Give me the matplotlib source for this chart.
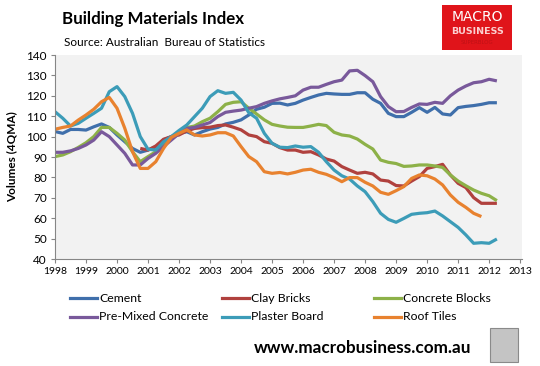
import numpy as np
import matplotlib
matplotlib.use("Agg")
import matplotlib.pyplot as plt
from matplotlib.patches import Rectangle
from matplotlib.lines import Line2D

plt.rcParams['font.family'] = ['Lato', 'DejaVu Sans']

nan = np.nan
start_year = 1998
n_quarters = 58
quarters = start_year + np.arange(n_quarters) * 0.25

cement = [102.5, 101.6, 103.5, 103.5, 103.2, 104.8, 106.2, 104.5,
          100.8, 97.5, 94.2, 92.3, 93.4, 95.0, 98.3, 100.0,
          101.5, 102.4, 100.8, 102.4, 103.7, 104.5, 106.2, 107.0,
          108.2, 110.6, 113.4, 114.4, 116.3, 116.4, 115.5, 116.3,
          117.9, 119.2, 120.4, 121.2, 120.9, 120.7, 120.7, 121.5,
          121.5, 118.3, 116.3, 111.4, 109.8, 109.8, 111.9, 114.2,
          111.9, 114.3, 111.1, 110.6, 114.2, 114.8, 115.2, 115.8,
          116.6, 116.6]
clay_bricks = [nan] * 11 + [94.2,
          93.4, 95.4, 98.7, 100.0, 100.8, 102.8, 104.0, 104.4,
          104.6, 105.4, 105.7, 104.6, 103.3, 100.8, 100.0, 97.5,
          96.7, 94.6, 93.4, 93.4, 92.3, 92.6, 91.0, 89.0,
          88.0, 85.3, 83.6, 82.0, 82.5, 81.7, 78.7, 78.2,
          76.0, 75.8, 78.2, 80.4, 84.4, 85.3, 86.4, 81.2,
          77.1, 75.0, 70.1, 67.3, 67.3, 67.3]
concrete_blocks = [90.2, 91.0, 92.6, 94.7, 97.0, 100.0, 104.5, 104.5,
          101.6, 98.3, 92.6, 87.7, 90.2, 92.6, 95.9, 98.8,
          101.6, 104.4, 105.2, 107.3, 109.0, 112.2, 115.8, 116.8,
          117.1, 113.9, 111.1, 108.2, 106.0, 105.2, 104.6, 104.5,
          104.5, 105.2, 106.0, 105.4, 102.1, 100.8, 100.3, 98.8,
          96.2, 93.9, 88.5, 87.4, 86.8, 85.4, 85.6, 86.1,
          86.1, 85.6, 84.9, 81.2, 78.2, 75.9, 73.8, 72.2,
          71.0, 68.6]
pre_mixed = [92.3, 92.3, 93.0, 94.2, 95.9, 98.3, 102.4, 100.0,
          95.9, 91.8, 86.1, 86.1, 89.3, 91.8, 95.1, 98.3,
          101.5, 104.0, 104.5, 105.7, 106.9, 109.8, 111.9, 112.5,
          113.0, 113.9, 114.7, 116.3, 117.5, 118.5, 119.2, 120.0,
          122.8, 124.2, 124.2, 125.6, 126.9, 127.7, 132.2, 132.5,
          129.9, 126.9, 119.6, 114.7, 112.2, 112.3, 114.3, 116.0,
          115.8, 116.8, 116.3, 120.0, 122.8, 124.8, 126.4, 126.9,
          128.1, 127.3]
plaster_board = [112.2, 109.0, 105.2, 106.5, 109.0, 111.4, 113.9, 122.0,
          124.5, 119.6, 111.4, 100.0, 93.8, 93.4, 97.5, 100.0,
          103.0, 105.7, 109.8, 113.9, 119.6, 122.5, 121.2, 121.7,
          117.9, 111.7, 109.0, 101.6, 96.7, 94.8, 94.6, 95.4,
          94.8, 95.1, 92.3, 87.7, 83.6, 80.8, 79.2, 75.8,
          73.0, 68.1, 62.4, 59.4, 58.0, 59.9, 61.9, 62.4,
          62.7, 63.5, 61.1, 58.3, 55.5, 51.8, 47.7, 48.0,
          47.7, 49.8]
roof_tiles = [103.6, 104.5, 105.2, 108.1, 110.6, 113.4, 117.1, 119.2,
          113.9, 104.1, 92.6, 84.4, 84.4, 87.7, 94.2, 99.6,
          101.6, 103.3, 100.8, 100.3, 100.8, 101.9, 101.9, 100.3,
          95.1, 90.2, 87.7, 82.8, 82.0, 82.4, 81.7, 82.5,
          83.6, 84.0, 82.5, 81.5, 79.9, 77.9, 79.9, 79.9,
          77.6, 75.8, 72.7, 71.7, 73.5, 75.5, 79.5, 81.2,
          80.8, 79.2, 76.3, 71.4, 67.8, 65.3, 62.4, 60.8, nan, nan]

series_names = ["Cement", "Clay Bricks", "Concrete Blocks",
                "Pre-Mixed Concrete", "Plaster Board", "Roof Tiles"]
series_values = [cement, clay_bricks, concrete_blocks, pre_mixed, plaster_board, roof_tiles]
colors = ["#3f6fab", "#b0413e", "#8db148", "#79599b", "#3c9cb8", "#e8822f"]

year_ticks = list(range(1998, 2014))
y_ticks = list(range(40, 141, 10))

fig = plt.figure(figsize=(5.4, 3.66), dpi=100)
fig.patch.set_facecolor("white")
ax = fig.add_axes([55/540, 107/366, 467/540, 204/366])
ax.set_facecolor("#f2f2f2")

for name, vals, c in zip(series_names, series_values, colors):
    ax.plot(quarters, vals, color=c, lw=2.3, label=name, solid_capstyle="butt")

ax.set_xlim(1998, 2013.06)
ax.set_ylim(40, 140)
ax.set_xticks(year_ticks)
ax.set_xticklabels([str(y) for y in year_ticks], fontsize=7.5)
ax.set_yticks(y_ticks)
ax.set_yticklabels([str(v) for v in y_ticks], fontsize=8.5)
for s in ["top", "right"]:
    ax.spines[s].set_visible(False)
for s in ["left", "bottom"]:
    ax.spines[s].set_color("#868686")
    ax.spines[s].set_linewidth(0.8)
ax.tick_params(axis="both", direction="out", length=3, color="#868686", width=0.8, pad=3)
ax.set_ylabel("Volumes (4QMA)", fontsize=8.5, fontweight="bold", labelpad=6)

fig.text(62/540, 1 - 19/366, "Building Materials Index", fontsize=12.2,
         fontweight="bold", va="center", ha="left")
fig.text(64/540, 1 - 42/366, "Source: Australian  Bureau of Statistics",
         fontsize=8.5, va="center", ha="left")

# Legend: 3 columns x 2 rows, row-major order
col_x = [70, 222, 374]
row_y = [298, 317]
for i, (name, c) in enumerate(zip(series_names, colors)):
    r, k = divmod(i, 3)
    x0 = col_x[k]
    y0 = 1 - row_y[r] / 366
    fig.add_artist(Line2D([x0/540, (x0 + 27)/540], [y0, y0], color=c, lw=2.3,
                          transform=fig.transFigure))
    fig.text((x0 + 29)/540, y0, name, fontsize=8.8, va="center", ha="left")

fig.text(363/540, 1 - 348/366, "www.macrobusiness.com.au", fontsize=12.3,
         fontweight="bold", va="center", ha="center")

# Logo box
fig.patches.append(Rectangle((442/540, 1 - 50/366), 70/540, 45/366,
                             transform=fig.transFigure, facecolor="#e0141a",
                             edgecolor="none"))
fig.text(477/540, 1 - 17/366, "MACRO", color="white", fontsize=10,
         ha="center", va="center", family="DejaVu Sans")
fig.text(477/540, 1 - 31/366, "BUSINESS", color="#fbd0d0", fontsize=6.8,
         ha="center", va="center", family="DejaVu Sans", fontweight="bold")
fig.text(477/540, 1 - 42/366, "SUPERBLOG", color="#c01015", fontsize=4,
         ha="center", va="center", family="DejaVu Sans")

# Wolf picture placeholder
fig.patches.append(Rectangle((490/540, 1 - 362/366), 28/540, 34/366,
                             transform=fig.transFigure, facecolor="#c4c4c4",
                             edgecolor="#8a8a8a", lw=0.8))

fig.savefig("out.png", dpi=100)
